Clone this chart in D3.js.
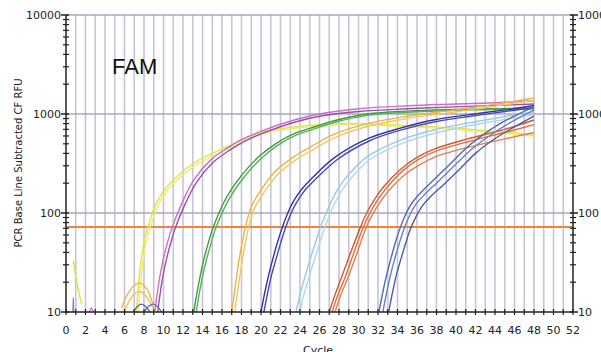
<!DOCTYPE html>
<html><head><meta charset="utf-8">
<script src="https://cdn.jsdelivr.net/npm/d3@7"></script>
<style>body{margin:0;background:#fff}svg{display:block}</style>
</head><body><svg id="c" width="601" height="352"></svg>
<script>
// ---- data ----
const cycleTicks = d3.range(0, 53, 2);
const rfuTicks = [10, 100, 1000, 10000];
const threshold = 72;
const chartTitle = "FAM";
const xLabel = "Cycle";
const yLabel = "PCR Base Line Subtracted CF RFU";

const yellowA = [[7.2,10],[7.3,12.8],[7.5,22],[7.8,38.6],[8.1,56.5],[8.4,72],[9.0,109],[9.7,150],[11,215],[13.1,318],[16.5,467],[19.9,644],[23.3,740],[28,800],[33,780],[38,740],[43,680],[48,620]];
const yellowB = [[7.4,10],[7.5,12.8],[7.7,22],[8.0,38],[8.3,55],[8.6,70],[9.2,105],[9.9,145],[11.2,208],[13.3,305],[16.7,450],[20,620],[23.5,720],[28,780],[33,760],[38,720],[43,660],[48,600]];
const purpleA = [[9.1,10],[9.3,14],[9.6,22],[10.0,35],[10.45,52],[10.9,72],[11.8,120],[13.1,215],[14.8,340],[16.5,450],[18,550],[19.9,665],[23.4,870],[26,1000],[30,1130],[35,1210],[40,1260],[44,1300],[48,1360]];
const purpleB = [[9.4,10],[9.6,14],[9.9,22],[10.3,34],[10.75,50],[11.2,70],[12.1,116],[13.4,205],[15.1,325],[16.8,432],[18.3,530],[20.2,640],[23.7,840],[26.3,960],[30,1060],[35,1130],[40,1180],[44,1220],[48,1260]];
const greenA = [[13.1,10],[13.4,15],[13.8,24],[14.2,36],[14.65,52],[15.1,72],[16.5,146],[18,240],[19.9,380],[21.5,500],[23.4,635],[25.1,720],[27.4,850],[30.9,1000],[35,1070],[40,1110],[44,1130],[48,1150]];
const greenB = [[13.35,10],[13.65,15],[14.05,24],[14.45,35],[14.9,50],[15.35,70],[16.75,140],[18.25,230],[20.15,365],[21.75,485],[23.65,615],[25.35,700],[27.65,830],[31.1,975],[35,1040],[40,1090],[44,1110],[48,1120]];
const goldA = [[17.0,10],[17.2,14],[17.5,23],[17.8,36],[18.1,52],[18.4,72],[19.0,115],[19.9,165],[21.5,265],[23.4,371],[25.1,467],[27.4,620],[30.9,800],[35,950],[40,1100],[44,1250],[48,1450]];
const goldB = [[17.3,10],[17.5,14],[17.8,22],[18.1,34],[18.4,50],[18.7,70],[19.3,110],[20.2,155],[21.8,250],[23.7,350],[25.4,440],[27.7,585],[31.2,760],[35,900],[40,1050],[44,1200],[48,1380]];
const navyA = [[20.0,10],[20.4,16],[20.8,24],[21.2,34],[21.7,51],[22.2,72],[22.8,103],[23.4,135],[24.2,175],[25.1,218],[27.5,360],[30.9,560],[34.3,720],[37.7,870],[41.2,980],[45,1100],[48,1220]];
const navyB = [[20.3,10],[20.7,16],[21.1,24],[21.5,33],[22.0,49],[22.5,70],[23.1,100],[23.7,130],[24.5,170],[25.4,210],[27.8,345],[31.2,540],[34.6,700],[38,840],[41.5,950],[45,1060],[48,1160]];
const lightBlueA = [[23.6,10],[24.0,15],[24.5,22.5],[25.0,33],[25.55,49],[26.1,72],[27.5,150],[28.2,195],[29,245],[30.9,371],[34.3,545],[37.7,690],[41.2,810],[45,940],[48,1050]];
const lightBlueB = [[24.0,10],[24.4,15],[24.9,22],[25.4,32],[25.95,47],[26.5,70],[27.9,145],[28.6,186],[29.4,235],[31.3,355],[34.7,515],[38.1,650],[41.6,770],[45,880],[48,980]];
const redA = [[27.0,10],[27.6,15],[28.3,23],[29.2,40],[30.2,72],[30.9,103],[31.7,140],[32.6,185],[34.3,275],[36,365],[37.7,440],[41.2,560],[45,700],[48,870]];
const redB = [[27.3,10],[27.9,15],[28.6,22],[29.5,39],[30.45,70],[31.15,99],[31.95,135],[32.85,178],[34.5,265],[36.2,350],[37.9,420],[41.4,530],[45,650],[48,780]];
const redC = [[27.6,10],[28.2,15],[28.9,22],[29.8,38],[30.7,68],[31.4,95],[32.2,128],[33.1,168],[35,255],[36.6,320],[38.2,380],[42,480],[45,560],[48,650]];
const steelA = [[32.1,10],[32.5,16],[32.9,24],[33.3,34],[33.8,51],[34.3,72],[34.9,100],[35.5,127],[36.5,165],[37.7,215],[39.5,320],[41.2,467],[43,640],[44.6,810],[48,1190]];
const steelB = [[32.5,10],[32.9,16],[33.3,24],[33.7,34],[34.2,50],[34.7,70],[35.3,97],[35.9,123],[36.9,158],[38.1,205],[39.9,305],[41.6,440],[43.4,600],[45,760],[48,1100]];
const steelC = [[33.1,10],[33.5,16],[33.9,24],[34.3,33],[34.8,48],[35.3,68],[35.9,92],[36.5,116],[37.5,150],[38.7,192],[40.5,285],[42,400],[43.6,530],[45,650],[48,950]];
const noiseOrangeA = [[5.7,11],[6.3,15],[7.0,18.5],[7.6,19.6],[8.3,17],[8.8,13],[9.1,10]];
const noiseOrangeB = [[6.0,10],[6.5,13],[7.1,15.5],[7.7,16],[8.3,14],[8.8,11.5],[9.2,10]];
const noiseBlueA = [[6.9,10],[7.3,11.3],[7.7,12],[8.2,11.3],[8.6,10]];
const noiseBlueB = [[8.0,10],[8.5,11.5],[9.0,12],[9.5,11],[9.8,10]];
const noiseYellow = [[0.75,33],[1.1,20],[1.6,12]];
const noiseBar = [[0.72,10],[0.75,14],[0.78,10]];
const noiseMagenta = [[2.4,10],[2.6,11],[2.8,10]];

const series = [
  {data: yellowA, color: "#e6e04a"}, {data: yellowB, color: "#ecec70"},
  {data: purpleA, color: "#c872c4"}, {data: purpleB, color: "#9a50ac"},
  {data: greenA, color: "#3c9c3c"}, {data: greenB, color: "#58b058"},
  {data: goldA, color: "#eeb440"}, {data: goldB, color: "#f0c868"},
  {data: navyA, color: "#34349c"}, {data: navyB, color: "#4848b0"},
  {data: lightBlueA, color: "#98cce4"}, {data: lightBlueB, color: "#b0d8ec"},
  {data: redA, color: "#d4582a"}, {data: redB, color: "#e07040"}, {data: redC, color: "#e28050"},
  {data: steelA, color: "#5068b0"}, {data: steelB, color: "#6a80c0"}, {data: steelC, color: "#4c5ca8"},
  {data: noiseOrangeA, color: "#f0b848"}, {data: noiseOrangeB, color: "#f0c060"},
  {data: noiseBlueA, color: "#5060b8"}, {data: noiseBlueB, color: "#6070c0"},
  {data: noiseYellow, color: "#e0e040"}, {data: noiseBar, color: "#8080c8"},
  {data: noiseMagenta, color: "#c070c0"}
];

// ---- drawing ----
const svg = d3.select("#c");
const L = 66, R = 573, T = 15, B = 312;
const x = d3.scaleLinear().domain([0, 52]).range([L, R]);
const y = d3.scaleLog().domain([10, 10000]).range([B, T]);
const font = "DejaVu Sans, Verdana, sans-serif";

svg.append("defs").append("clipPath").attr("id", "clip")
  .append("rect").attr("x", L).attr("y", T).attr("width", R - L).attr("height", B - T);

// vertical grid
svg.append("g").selectAll("line").data(d3.range(1, 52)).join("line")
  .attr("x1", d => x(d)).attr("x2", d => x(d)).attr("y1", T).attr("y2", B)
  .attr("stroke", "#c6c4d6").attr("stroke-width", 1.6);
// horizontal grid
svg.append("g").selectAll("line").data(rfuTicks.slice(1)).join("line")
  .attr("x1", L).attr("x2", R).attr("y1", d => y(d)).attr("y2", d => y(d))
  .attr("stroke", "#aaa6c2").attr("stroke-width", 1.6);

// threshold
svg.append("line").attr("x1", L).attr("x2", R).attr("y1", y(threshold)).attr("y2", y(threshold))
  .attr("stroke", "#f0843c").attr("stroke-width", 2);

// curves
const line = d3.line().x(d => x(d[0])).y(d => y(d[1])).curve(d3.curveCatmullRom.alpha(0.5));
svg.append("g").attr("clip-path", "url(#clip)").selectAll("path").data(series).join("path")
  .attr("d", d => line(d.data)).attr("fill", "none")
  .attr("stroke", d => d.color).attr("stroke-width", 1.4);

// axes
const minor = [];
for (let e = 1; e < 4; e++) for (let m = 2; m <= 9; m++) minor.push(m * Math.pow(10, e));

function yAxis(xp, side) {
  const g = svg.append("g");
  g.append("line").attr("x1", xp).attr("x2", xp).attr("y1", T).attr("y2", B).attr("stroke", "#222").attr("stroke-width", 1.5);
  g.selectAll(".mn").data(minor).join("line")
    .attr("x1", xp - 3).attr("x2", xp + 3).attr("y1", d => y(d)).attr("y2", d => y(d)).attr("stroke", "#222").attr("stroke-width", 1.2);
  g.selectAll(".mj").data(rfuTicks).join("line")
    .attr("x1", side < 0 ? xp - 5 : xp - 3).attr("x2", side < 0 ? xp + 3 : xp + 5)
    .attr("y1", d => y(d)).attr("y2", d => y(d)).attr("stroke", "#222").attr("stroke-width", 1.5);
  g.selectAll("text").data(rfuTicks).join("text")
    .attr("x", side < 0 ? xp - 5 : xp + 5).attr("y", d => y(d)).attr("dy", "0.35em")
    .attr("text-anchor", side < 0 ? "end" : "start")
    .attr("font-family", font).attr("font-size", 11).attr("fill", "#222")
    .text(d => d);
}
yAxis(L, -1);
yAxis(R, 1);

// bottom axis
const gb = svg.append("g");
gb.append("line").attr("x1", L).attr("x2", R).attr("y1", B).attr("y2", B).attr("stroke", "#222").attr("stroke-width", 1.5);
gb.selectAll("line.t").data(d3.range(0, 53)).join("line")
  .attr("x1", d => x(d)).attr("x2", d => x(d)).attr("y1", B - 3).attr("y2", B + 3).attr("stroke", "#222").attr("stroke-width", 1.2);
gb.selectAll("text").data(cycleTicks).join("text")
  .attr("x", d => x(d)).attr("y", 334).attr("text-anchor", "middle")
  .attr("font-family", font).attr("font-size", 11).attr("fill", "#222").text(d => d);

svg.append("text").attr("x", 318).attr("y", 354).attr("text-anchor", "middle")
  .attr("font-family", font).attr("font-size", 11).attr("fill", "#222").text(xLabel);
svg.append("text").attr("transform", "translate(22,163) rotate(-90)").attr("text-anchor", "middle")
  .attr("font-family", font).attr("font-size", 10).attr("fill", "#222").text(yLabel);
svg.append("text").attr("x", 112).attr("y", 74)
  .attr("font-family", "Liberation Sans, Arial, sans-serif").attr("font-size", 22).attr("fill", "#111").text(chartTitle);
</script></body></html>
